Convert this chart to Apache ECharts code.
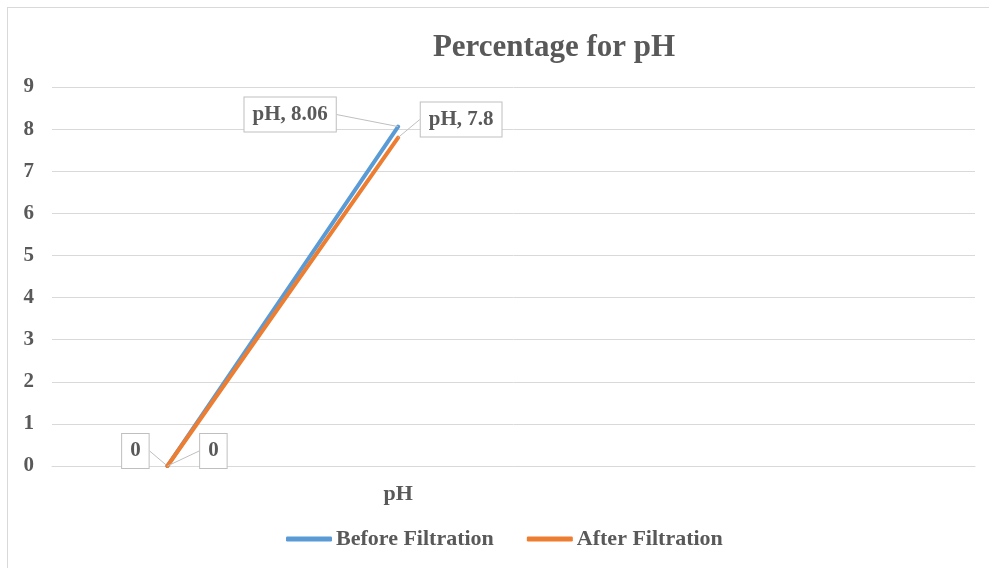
<!DOCTYPE html>
<html>
<head>
<meta charset="utf-8">
<title>Percentage for pH</title>
<script src="https://cdn.jsdelivr.net/npm/echarts@6/dist/echarts.min.js"></script>
<style>
  html, body { margin: 0; padding: 0; background: #fff; }
  #frame { position: absolute; left: 7px; top: 7px; width: 1000px; height: 600px;
           border-top: 1px solid #d9d9d9; border-left: 1px solid #d9d9d9; }
  #chart { position: absolute; left: 0; top: 0; width: 989px; height: 568px; }
</style>
</head>
<body>
<div id="frame"></div>
<div id="chart"></div>
<script>
  // 数据
  const categories = ["", "pH", "", ""];
  const beforeFiltration = [0, 8.06, null, null];
  const afterFiltration = [0, 7.8, null, null];
  const yTicks = { min: 0, max: 9, interval: 1 };

  // 标签相对数据点的偏移（按 seriesIndex, dataIndex）
  const labelOffsets = [
    [[-32, -15], [-108, -12]],
    [[46, -15], [63, -18]],
  ];

  const textColor = "#595959";
  const fontFamily = "'Liberation Serif', 'Times New Roman', serif";

  const chart = echarts.init(document.getElementById("chart"), null, { renderer: "canvas" });

  const makeSeries = (name, data, color, idx) => ({
    name,
    type: "line",
    data,
    symbol: "circle",
    symbolSize: 0.1,
    itemStyle: { color },
    lineStyle: { color, width: 4, cap: "round" },
    z: 2 + idx,
    label: {
      show: true,
      position: "inside",
      formatter: (p) => (p.name ? `${p.name}, ${p.value}` : `${p.value}`),
      color: textColor,
      fontFamily,
      fontWeight: "bold",
      fontSize: 21,
      backgroundColor: "#fff",
      borderColor: "#bfbfbf",
      borderWidth: 1,
      padding: [7, 8, 6, 8],
    },
    labelLine: { show: true, lineStyle: { color: "#bfbfbf", width: 1 } },
    labelLayout: (p) => {
      const off = labelOffsets[idx][p.dataIndex] || [0, 0];
      return { dx: off[0], dy: off[1] };
    },
  });

  chart.setOption({
    animation: false,
    backgroundColor: "transparent",
    title: {
      text: "Percentage for pH",
      left: 549,
      textAlign: "center",
      top: 27,
      textStyle: { color: textColor, fontFamily, fontWeight: "bold", fontSize: 31 },
    },
    grid: { left: 52, right: 14, top: 87, bottom: 102 },
    legend: {
      top: 523,
      left: 281,
      itemGap: 33,
      itemWidth: 46,
      itemHeight: 5,
      icon: "roundRect",
      textStyle: { color: textColor, fontFamily, fontWeight: "bold", fontSize: 22, padding: [0, 0, 0, -1] },
      data: ["Before Filtration", "After Filtration"],
    },
    xAxis: {
      type: "category",
      data: categories,
      boundaryGap: true,
      axisLine: { lineStyle: { color: "#d9d9d9" } },
      axisTick: { show: false },
      axisLabel: { color: textColor, fontFamily, fontWeight: "bold", fontSize: 22, margin: 17 },
      splitLine: { show: false },
    },
    yAxis: {
      type: "value",
      min: yTicks.min,
      max: yTicks.max,
      interval: yTicks.interval,
      axisLine: { show: false },
      axisTick: { show: false },
      axisLabel: { color: textColor, fontFamily, fontWeight: "bold", fontSize: 21, margin: 18 },
      splitLine: { lineStyle: { color: "#d9d9d9" } },
    },
    series: [
      makeSeries("Before Filtration", beforeFiltration, "#5b9bd5", 0),
      makeSeries("After Filtration", afterFiltration, "#ed7d31", 1),
    ],
  });
</script>
</body>
</html>
